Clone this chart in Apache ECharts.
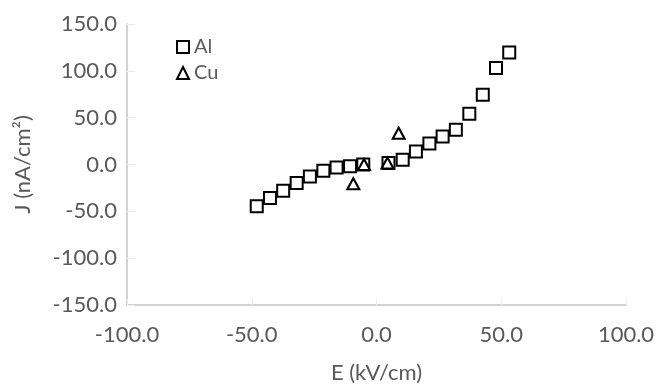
<!DOCTYPE html>
<html>
<head>
<meta charset="utf-8">
<script src="https://cdn.jsdelivr.net/npm/echarts@6/dist/echarts.min.js"></script>
<style>
html,body{margin:0;padding:0;background:#fff;}
#chart{width:656px;height:388px;}
</style>
</head>
<body>
<div id="chart"></div>
<script>
// Al series (E in kV/cm, J in nA/cm^2)
const alE = [-48.0, -42.7, -37.4, -32.0, -26.7, -21.3, -16.0, -10.6, -5.3, 4.8, 10.5, 15.8, 21.2, 26.5, 31.8, 37.2, 42.6, 47.9, 53.2];
const alJ = [-44.7, -35.7, -28.0, -19.8, -12.7, -6.6, -3.3, -1.8, 0.0, 1.6, 5.0, 13.9, 22.4, 30.0, 37.1, 54.2, 74.4, 102.9, 119.5];
// Cu series
const cuE = [-9.3, -5.0, 4.4, 8.9];
const cuJ = [-20.5, 0.0, 1.6, 33.4];
// axis ticks
const xTicks = [-100, -50, 0, 50, 100];
const yTicks = [-150, -100, -50, 0, 50, 100, 150];

const zip = (a, b) => a.map((v, i) => [v, b[i]]);
const font = 'Lato';
const grey = '#595959';

const chart = echarts.init(document.getElementById('chart'));
chart.setOption({
  animation: false,
  textStyle: { fontFamily: font },
  grid: { left: 127, top: 24, right: 30, bottom: 83, containLabel: false, outerBoundsMode: 'none' },
  legend: {
    orient: 'vertical',
    left: 171,
    top: 32,
    itemWidth: 12,
    itemHeight: 12,
    itemGap: 6,
    textStyle: { fontFamily: font, fontSize: 20, color: grey, padding: [0, 0, 0, 0] },
    data: [
      { name: 'Al', icon: 'rect' },
      { name: 'Cu', icon: 'triangle' }
    ],
    itemStyle: { color: 'rgba(0,0,0,0)', borderColor: '#000', borderWidth: 2 }
  },
  xAxis: {
    type: 'value',
    min: xTicks[0], max: xTicks[xTicks.length - 1], interval: 50,
    splitLine: { show: false },
    axisLine: { onZero: false, lineStyle: { color: '#c4c4c4', width: 1.5 } },
    axisTick: { show: true, inside: true, length: 6, lineStyle: { color: '#ececec' } },
    axisLabel: { fontFamily: font, fontSize: 22, color: grey, margin: 19, formatter: v => v.toFixed(1) },
    name: 'E (kV/cm)',
    nameLocation: 'middle',
    nameGap: 57,
    nameTextStyle: { fontFamily: font, fontSize: 22, color: grey }
  },
  yAxis: {
    type: 'value',
    min: yTicks[0], max: yTicks[yTicks.length - 1], interval: 50,
    splitLine: { show: false },
    axisLine: { show: true, onZero: false, lineStyle: { color: '#c4c4c4', width: 1.5 } },
    axisTick: { show: true, inside: true, length: 8, lineStyle: { color: '#ececec' } },
    axisLabel: { fontFamily: font, fontSize: 22, color: grey, margin: 10, formatter: v => v.toFixed(1) },
    name: 'J (nA/cm²)',
    nameLocation: 'middle',
    nameGap: 93,
    nameTextStyle: { fontFamily: font, fontSize: 22, color: grey }
  },
  series: [
    {
      name: 'Al', type: 'scatter', symbol: 'rect', symbolSize: 12,
      itemStyle: { color: 'rgba(0,0,0,0)', borderColor: '#000', borderWidth: 2, opacity: 1 },
      data: zip(alE, alJ)
    },
    {
      name: 'Cu', type: 'scatter', symbol: 'triangle', symbolSize: [12, 11],
      itemStyle: { color: 'rgba(0,0,0,0)', borderColor: '#000', borderWidth: 2, opacity: 1 },
      data: zip(cuE, cuJ)
    }
  ]
});
</script>
</body>
</html>
